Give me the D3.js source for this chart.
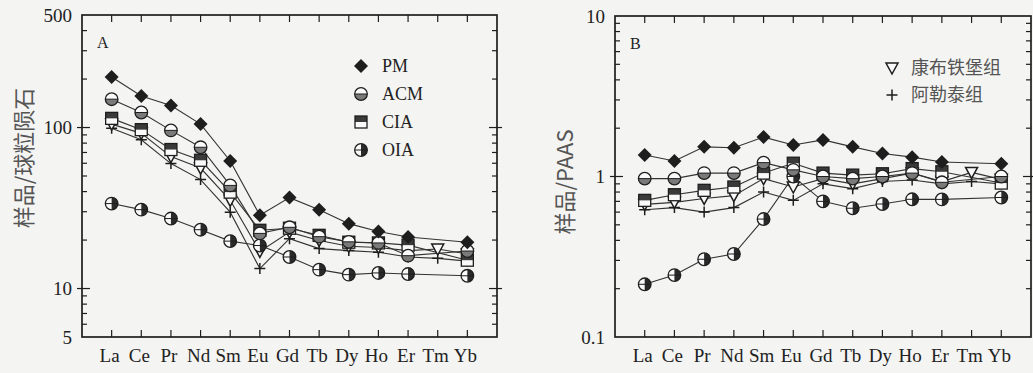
<!DOCTYPE html>
<html><head><meta charset="utf-8">
<script src="https://cdn.jsdelivr.net/npm/d3@7"></script>
<style>
html,body{margin:0;padding:0;background:#f4f4f2;}
svg{display:block;}
text{font-family:"Liberation Serif","DejaVu Serif",serif;fill:#222;}
.cjk{font-family:"Noto Sans CJK SC","Noto Sans CJK TC",sans-serif;fill:#555;}
</style></head>
<body>
<svg id="c" width="1033" height="373"></svg>
<script>
// ---------- data ----------
const elements = ["La","Ce","Pr","Nd","Sm","Eu","Gd","Tb","Dy","Ho","Er","Tm","Yb"];

// Panel A : sample / chondrite
const aPM   = [206,157,137,105,62,28.5,36.7,30.9,25.3,22.6,20.9,null,19.4];
const aACM  = [150,124,96,75.4,43.7,22,24,21,19.5,19.2,16,null,17.1];
const aCIA  = [114,97,73,62.6,39.7,23,23.7,21.4,19.4,19.2,18.6,null,15];
const aOIA  = [33.7,30.9,27.2,23.2,19.7,18.5,15.7,13.1,12.2,12.5,12.3,null,12.0];
const aKBTB = [105,92,66,56,35.3,17,22.4,19.9,18.3,18,17.2,17.6,16.4];
const aALT  = [99,84,59.7,47.5,29.8,13.3,20.4,17.7,17.2,16.8,15.7,15.4,14.8];

// Panel B : sample / PAAS
const bPM   = [1.36,1.25,1.53,1.51,1.76,1.57,1.69,1.53,1.39,1.32,1.23,null,1.20];
const bACM  = [0.97,0.97,1.05,1.05,1.22,1.1,1.0,0.97,1.0,1.05,0.92,null,1.0];
const bCIA  = [0.71,0.77,0.82,0.86,1.05,1.21,1.05,1.02,1.04,1.12,1.07,null,0.91];
const bOIA  = [0.213,0.243,0.305,0.329,0.543,1.0,0.70,0.634,0.674,0.721,0.72,null,0.74];
const bKBTB = [0.67,0.69,0.73,0.76,0.97,0.86,0.97,0.9,0.97,1.05,0.93,1.06,0.96];
const bALT  = [0.62,0.64,0.60,0.64,0.80,0.71,0.9,0.84,0.93,0.95,0.9,0.93,0.9];

const aTickLabels = [500,100,10,5];
const bTickLabels = [10,1,0.1];
const legendA = ["PM","ACM","CIA","OIA"];
const legendB = ["康布铁堡组","阿勒泰组"];

// ---------- drawing ----------
const svg = d3.select("#c");
const ink = "#1e1e1e";

function marker(g, type, x, y){
  const m = g.append("g").attr("transform",`translate(${x},${y})`);
  const r = 6.3;
  if(type==="PM"){
    m.append("path").attr("d","M0,-7L7,0L0,7L-7,0Z").attr("fill",ink);
  } else if(type==="ACM"){
    m.append("circle").attr("r",r).attr("fill","#fafafa");
    m.append("path").attr("d",`M${-r},0A${r},${r} 0 0 0 ${r},0Z`).attr("fill","#7a7a7a");
    m.append("line").attr("x1",-r).attr("x2",r).attr("stroke",ink).attr("stroke-width",1);
    m.append("circle").attr("r",r).attr("fill","none").attr("stroke",ink).attr("stroke-width",1.3);
  } else if(type==="CIA"){
    m.append("rect").attr("x",-6).attr("y",-6).attr("width",12).attr("height",12).attr("fill","#fafafa");
    m.append("rect").attr("x",-6).attr("y",-6).attr("width",12).attr("height",6).attr("fill","#3a3a3a");
    m.append("rect").attr("x",-6).attr("y",-6).attr("width",12).attr("height",12).attr("fill","none").attr("stroke",ink).attr("stroke-width",1.3);
  } else if(type==="OIA"){
    m.append("circle").attr("r",r).attr("fill","#fafafa");
    m.append("path").attr("d",`M0,${-r}A${r},${r} 0 0 1 0,${r}Z`).attr("fill","#2a2a2a");
    m.append("line").attr("x1",-r).attr("x2",r).attr("stroke",ink).attr("stroke-width",1);
    m.append("circle").attr("r",r).attr("fill","none").attr("stroke",ink).attr("stroke-width",1.3);
  } else if(type==="KBTB"){
    m.append("path").attr("d","M-6,-5L6,-5L0,6Z").attr("fill","#fafafa").attr("stroke",ink).attr("stroke-width",1.5);
  } else if(type==="ALT"){
    m.append("path").attr("d","M-5.5,0H5.5M0,-5.5V5.5").attr("stroke",ink).attr("stroke-width",1.5);
  }
}

function panel(cfg){
  const {x0,x1,y0,y1,domain,series,tickLabels,fmt,title,titleX,letter} = cfg;
  const g = svg.append("g");
  const x = d3.scalePoint().domain(elements).range([x0,x1]).padding(1);
  const y = d3.scaleLog().domain(domain).range([y1,y0]);

  // lines
  const line = d3.line().x(d=>x(d.e)).y(d=>y(d.v));
  series.forEach(s=>{
    const pts = elements.map((e,i)=>({e,v:s.values[i]})).filter(d=>d.v!=null);
    g.append("path").attr("d",line(pts)).attr("fill","none").attr("stroke","#333").attr("stroke-width",1.1);
  });
  // markers
  series.forEach(s=>{
    elements.forEach((e,i)=>{ if(s.values[i]!=null) marker(g,s.type,x(e),y(s.values[i])); });
  });

  // frame
  g.append("rect").attr("x",x0).attr("y",y0).attr("width",x1-x0).attr("height",y1-y0)
    .attr("fill","none").attr("stroke",ink).attr("stroke-width",1.7);

  // y ticks
  const ticks = y.ticks();
  ticks.forEach(t=>{
    const yy = y(t);
    const major = Math.abs(Math.log10(t)-Math.round(Math.log10(t)))<1e-9;
    if(yy<=y0+0.5 || yy>=y1-0.5) return;
    const inn = major?8:5, out = major?5:0;
    g.append("line").attr("x1",x0-out).attr("x2",x0+inn).attr("y1",yy).attr("y2",yy).attr("stroke",ink).attr("stroke-width",1.2);
    g.append("line").attr("x1",x1+out).attr("x2",x1-inn).attr("y1",yy).attr("y2",yy).attr("stroke",ink).attr("stroke-width",1.2);
  });
  tickLabels.forEach(t=>{
    g.append("text").attr("x",x0-10).attr("y",y(t)).attr("dy","0.35em").attr("text-anchor","end")
      .attr("font-size",19).text(fmt(t));
  });

  // x ticks
  elements.forEach(e=>{
    g.append("line").attr("x1",x(e)).attr("x2",x(e)).attr("y1",y1).attr("y2",y1-7).attr("stroke",ink).attr("stroke-width",1.2);
    g.append("line").attr("x1",x(e)).attr("x2",x(e)).attr("y1",y0).attr("y2",y0+7).attr("stroke",ink).attr("stroke-width",1.2);
    g.append("text").attr("x",x(e)-2).attr("y",y1+25).attr("text-anchor","middle").attr("font-size",19).text(e);
  });

  // axis title
  g.append("text").attr("class","cjk").attr("transform",`translate(${titleX},${cfg.titleY}) rotate(-90)`)
    .attr("text-anchor","middle").attr("dy","0.35em").attr("font-size",22).text(title);
  // panel letter
  g.append("text").attr("x",x0+15).attr("y",y0+33).attr("font-size",16).text(letter);
  return {g,x,y};
}

const A = panel({x0:82,x1:497,y0:15,y1:337,domain:[5,500],
  series:[
    {type:"ALT",values:aALT},{type:"KBTB",values:aKBTB},{type:"OIA",values:aOIA},
    {type:"CIA",values:aCIA},{type:"ACM",values:aACM},{type:"PM",values:aPM}],
  tickLabels:aTickLabels, fmt:d=>String(d), title:"样品/球粒陨石", titleX:24, titleY:158, letter:"A"});

const B = panel({x0:615,x1:1031,y0:16,y1:337,domain:[0.1,10],
  series:[
    {type:"ALT",values:bALT},{type:"KBTB",values:bKBTB},{type:"OIA",values:bOIA},
    {type:"CIA",values:bCIA},{type:"ACM",values:bACM},{type:"PM",values:bPM}],
  tickLabels:bTickLabels, fmt:d=>String(d), title:"样品/PAAS", titleX:565, titleY:182, letter:"B"});

// legends
const legTypes = ["PM","ACM","CIA","OIA"];
legendA.forEach((name,i)=>{
  const yy = 66 + i*28;
  marker(A.g, legTypes[i], 361, yy);
  A.g.append("text").attr("x",382).attr("y",yy).attr("dy","0.35em").attr("font-size",18).text(name);
});
const legTypesB = ["KBTB","ALT"];
legendB.forEach((name,i)=>{
  const yy = 68 + i*27;
  marker(B.g, legTypesB[i], 892, yy);
  B.g.append("text").attr("class","cjk").attr("x",911).attr("y",yy).attr("dy","0.35em").attr("font-size",18).text(name);
});
</script>
</body></html>
